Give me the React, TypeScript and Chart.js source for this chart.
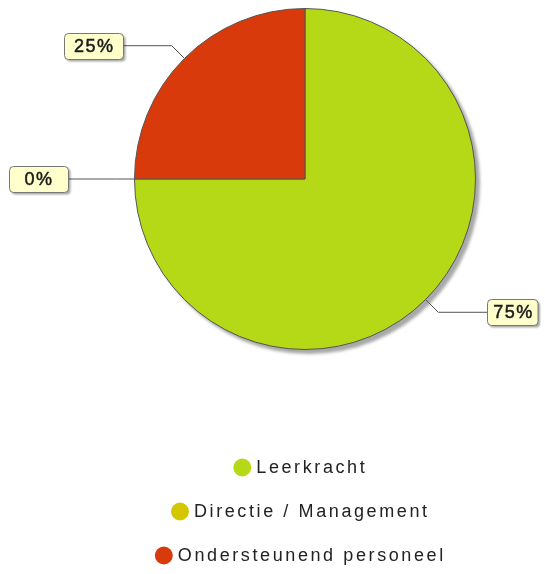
import React, { useEffect, useRef } from "react";
import { Chart, registerables } from "chart.js";

Chart.register(...registerables);

const categories = ["Leerkracht", "Directie / Management", "Ondersteunend personeel"];
const values = [75, 0, 25];
const percentLabels = ["75%", "0%", "25%"];
const colors = ["#b5d916", "#d3c800", "#d83a0b"];

const W = 545;
const H = 574;

const shadowPlugin = {
  id: "pieShadow",
  beforeDatasetsDraw(chart: any) {
    const meta = chart.getDatasetMeta(0);
    const arc = meta.data[0];
    if (!arc) return;
    const { x, y, outerRadius } = arc.getProps(["x", "y", "outerRadius"], true);
    const ctx = chart.ctx;
    ctx.save();
    ctx.filter = "blur(1.5px)";
    ctx.fillStyle = "rgba(110,110,110,0.6)";
    ctx.beginPath();
    ctx.arc(x + 4, y + 4, outerRadius + 0.5, 0, Math.PI * 2);
    ctx.fill();
    ctx.restore();
  },
};

function roundRect(ctx: CanvasRenderingContext2D, x: number, y: number, w: number, h: number, r: number) {
  ctx.beginPath();
  ctx.moveTo(x + r, y);
  ctx.lineTo(x + w - r, y);
  ctx.quadraticCurveTo(x + w, y, x + w, y + r);
  ctx.lineTo(x + w, y + h - r);
  ctx.quadraticCurveTo(x + w, y + h, x + w - r, y + h);
  ctx.lineTo(x + r, y + h);
  ctx.quadraticCurveTo(x, y + h, x, y + h - r);
  ctx.lineTo(x, y + r);
  ctx.quadraticCurveTo(x, y, x + r, y);
  ctx.closePath();
}

const calloutPlugin = {
  id: "callouts",
  afterDatasetsDraw(chart: any) {
    const ctx: CanvasRenderingContext2D = chart.ctx;
    const meta = chart.getDatasetMeta(0);
    meta.data.forEach((arc: any, i: number) => {
      const { x, y, outerRadius, startAngle, endAngle } = arc.getProps(
        ["x", "y", "outerRadius", "startAngle", "endAngle"],
        true
      );
      const mid = (startAngle + endAngle) / 2;
      const cx = Math.cos(mid);
      const sy = Math.sin(mid);
      const ex = x + outerRadius * cx;
      const ey = y + outerRadius * sy;
      const bx = x + (outerRadius + 18) * cx;
      const by = y + (outerRadius + 18) * sy;
      const right = cx >= 0;
      const endX = right ? bx + 49 : bx - 49;
      const text = percentLabels[i];

      ctx.save();
      ctx.strokeStyle = "#555";
      ctx.lineWidth = 1;
      ctx.beginPath();
      ctx.moveTo(ex, ey);
      ctx.lineTo(bx, by);
      ctx.lineTo(endX, by);
      ctx.stroke();

      ctx.font = '18px "Liberation Sans", Arial, sans-serif';
      (ctx as any).letterSpacing = "1.5px";
      const tw = ctx.measureText(text).width;
      const bw = right ? tw + 10 : 59;
      const bh = 26;
      const boxX = right ? endX : endX - bw;
      const boxY = Math.round(by) - bh / 2 + 0.5;

      ctx.shadowColor = "rgba(0,0,0,0.35)";
      ctx.shadowOffsetX = 2;
      ctx.shadowOffsetY = 2;
      ctx.shadowBlur = 2;
      roundRect(ctx, Math.round(boxX) + 0.5, boxY, bw, bh, 4);
      ctx.fillStyle = "#ffffcc";
      ctx.fill();
      ctx.shadowColor = "transparent";
      ctx.strokeStyle = "#777";
      ctx.stroke();

      ctx.fillStyle = "#1a1a1a";
      ctx.textBaseline = "middle";
      ctx.textAlign = "left";
      const tx = boxX + (bw - tw) / 2 + 1;
      ctx.fillText(text, tx, Math.round(by) + 1);
      ctx.lineWidth = 0.5;
      ctx.strokeStyle = "#1a1a1a";
      ctx.strokeText(text, tx, Math.round(by) + 1);
      ctx.restore();
    });
  },
};

const legendPlugin = {
  id: "customLegend",
  afterDraw(chart: any) {
    const ctx: CanvasRenderingContext2D = chart.ctx;
    const centerX = 299;
    const rowY = [467.5, 511.5, 555.5];
    ctx.save();
    ctx.font = '18px "Liberation Sans", Arial, sans-serif';
    (ctx as any).letterSpacing = "2.6px";
    ctx.textBaseline = "middle";
    ctx.textAlign = "left";
    categories.forEach((cat, i) => {
      const tw = ctx.measureText(cat).width - 2.6;
      const r = 9;
      const total = 2 * r + 5 + tw;
      const left = centerX - total / 2;
      ctx.fillStyle = colors[i];
      ctx.beginPath();
      ctx.arc(left + r, rowY[i], r, 0, Math.PI * 2);
      ctx.fill();
      ctx.fillStyle = "#222";
      ctx.fillText(cat, left + 2 * r + 5, rowY[i] + 1);
    });
    ctx.restore();
  },
};

export default function App() {
  const ref = useRef<HTMLCanvasElement | null>(null);
  useEffect(() => {
    if (!ref.current) return;
    const chart = new Chart(ref.current, {
      type: "pie",
      data: {
        labels: categories,
        datasets: [
          {
            data: values,
            backgroundColor: colors,
            borderColor: "#555",
            borderWidth: 1,
          },
        ],
      },
      options: {
        responsive: false,
        animation: false,
        layout: { padding: { left: 134, right: 69, top: 8, bottom: 224 } },
        plugins: {
          legend: { display: false },
          tooltip: { enabled: false },
        },
      },
      plugins: [shadowPlugin, calloutPlugin, legendPlugin],
    });
    return () => chart.destroy();
  }, []);
  return (
    <div style={{ position: "fixed", left: 0, top: 0, width: W, height: H, background: "#fff" }}>
      <canvas ref={ref} width={W} height={H} style={{ display: "block" }} />
    </div>
  );
}
